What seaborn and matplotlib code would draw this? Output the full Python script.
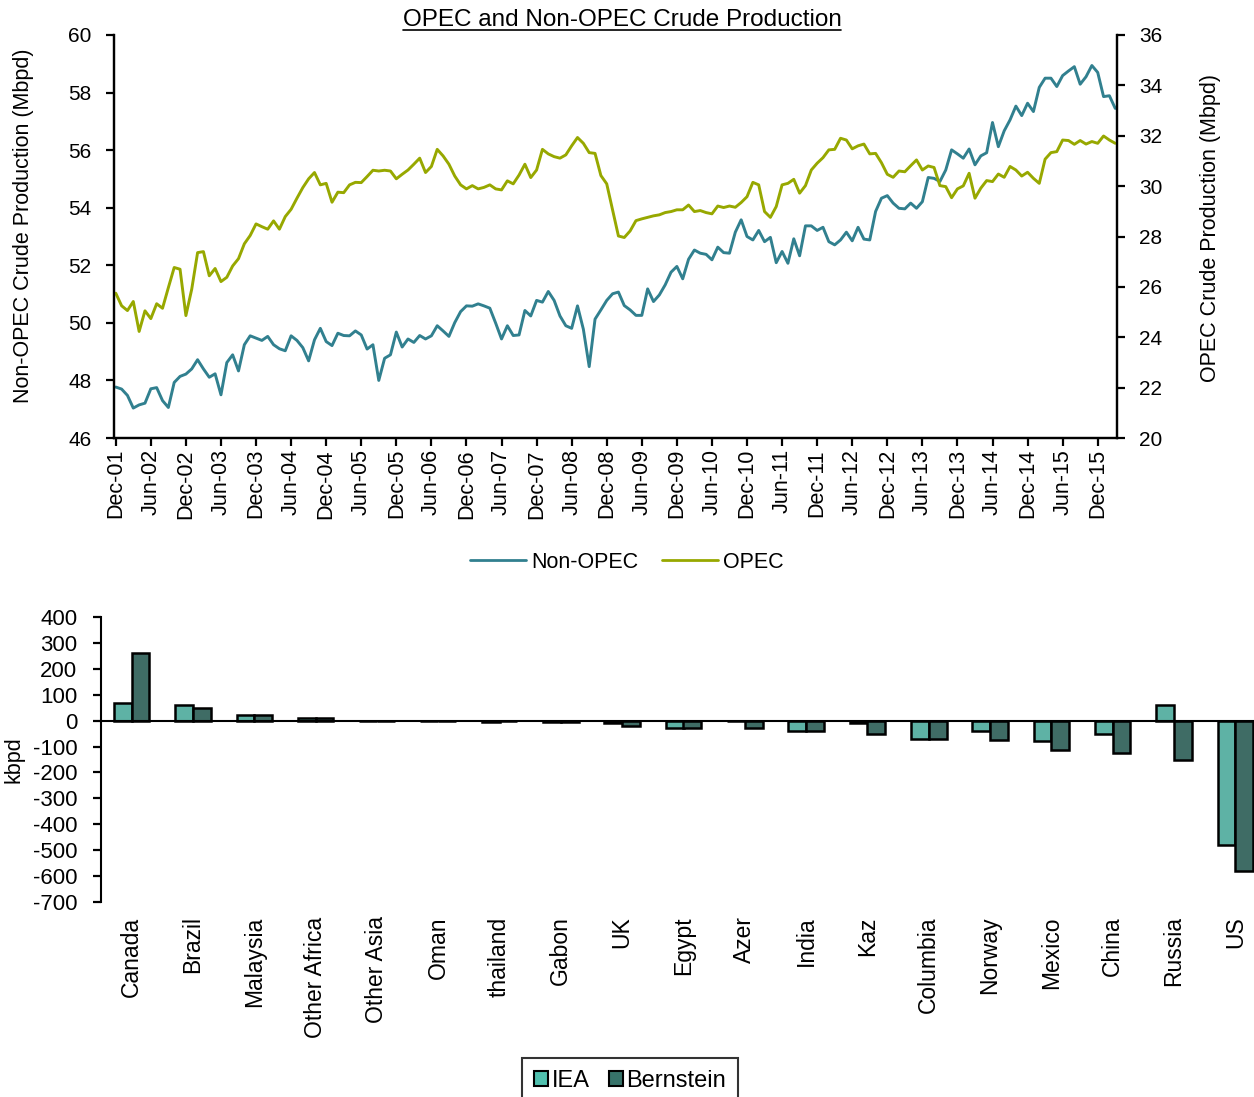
import numpy as np
import pandas as pd
import matplotlib.pyplot as plt
from matplotlib.lines import Line2D
from matplotlib.patches import Patch
import seaborn as sns


# monthly crude production, Dec-01 .. Mar-16 (Mbpd)
non_opec = [
    47.77, 47.70, 47.48, 47.04, 47.15, 47.21, 47.71, 47.75, 47.30, 47.06,
    47.93, 48.14, 48.22, 48.40, 48.72, 48.40, 48.11, 48.23, 47.50, 48.62,
    48.89, 48.33, 49.24, 49.55, 49.47, 49.39, 49.53, 49.24, 49.10, 49.03,
    49.55, 49.39, 49.14, 48.68, 49.41, 49.81, 49.35, 49.21, 49.64, 49.56,
    49.55, 49.72, 49.58, 49.09, 49.24, 48.00, 48.77, 48.89, 49.68, 49.16,
    49.44, 49.32, 49.56, 49.44, 49.55, 49.90, 49.72, 49.53, 50.01, 50.39,
    50.59, 50.58, 50.66, 50.59, 50.51, 49.99, 49.44, 49.90, 49.56, 49.58,
    50.43, 50.24, 50.78, 50.72, 51.09, 50.78, 50.24, 49.90, 49.81, 50.59,
    49.78, 48.48, 50.13, 50.45, 50.78, 51.01, 51.07, 50.60, 50.45, 50.26,
    50.26, 51.18, 50.74, 50.97, 51.32, 51.76, 51.96, 51.53, 52.21, 52.53,
    52.42, 52.38, 52.19, 52.63, 52.44, 52.42, 53.15, 53.58, 53.00, 52.88,
    53.21, 52.82, 52.97, 52.09, 52.48, 52.07, 52.92, 52.33, 53.37, 53.37,
    53.21, 53.32, 52.82, 52.71, 52.88, 53.15, 52.85, 53.32, 52.91, 52.88,
    53.87, 54.33, 54.42, 54.16, 53.98, 53.96, 54.16, 53.98, 54.21, 55.05,
    55.02, 54.91, 55.31, 56.01, 55.87, 55.72, 56.04, 55.49, 55.80, 55.91,
    56.96, 56.12, 56.67, 57.05, 57.53, 57.20, 57.63, 57.34, 58.18, 58.50,
    58.50, 58.21, 58.59, 58.75, 58.90, 58.29, 58.55, 58.94, 58.70, 57.86,
    57.89, 57.45,
]
opec = [
    25.75, 25.25, 25.06, 25.42, 24.23, 25.05, 24.74, 25.33, 25.15, 25.97,
    26.77, 26.70, 24.86, 25.91, 27.36, 27.40, 26.44, 26.73, 26.21, 26.38,
    26.83, 27.12, 27.71, 28.04, 28.50, 28.39, 28.29, 28.62, 28.29, 28.79,
    29.08, 29.52, 29.94, 30.29, 30.54, 30.05, 30.11, 29.36, 29.76, 29.74,
    30.05, 30.15, 30.14, 30.38, 30.63, 30.60, 30.63, 30.60, 30.29, 30.47,
    30.64, 30.87, 31.11, 30.54, 30.78, 31.46, 31.20, 30.87, 30.40, 30.05,
    29.89, 30.02, 29.89, 29.95, 30.05, 29.89, 29.85, 30.21, 30.09, 30.44,
    30.87, 30.34, 30.64, 31.46, 31.28, 31.17, 31.11, 31.24, 31.60, 31.93,
    31.70, 31.33, 31.30, 30.42, 30.09, 29.06, 28.02, 27.96, 28.22, 28.63,
    28.70, 28.76, 28.82, 28.86, 28.95, 28.99, 29.06, 29.06, 29.25, 28.99,
    29.03, 28.95, 28.90, 29.21, 29.15, 29.21, 29.16, 29.35, 29.58, 30.15,
    30.05, 28.99, 28.76, 29.19, 30.05, 30.11, 30.27, 29.72, 30.02, 30.64,
    30.91, 31.13, 31.44, 31.46, 31.90, 31.83, 31.48, 31.60, 31.67, 31.28,
    31.30, 30.93, 30.47, 30.35, 30.60, 30.57, 30.81, 31.04, 30.64, 30.80,
    30.74, 30.02, 29.98, 29.54, 29.89, 30.01, 30.51, 29.52, 29.92, 30.22,
    30.18, 30.48, 30.35, 30.78, 30.64, 30.40, 30.55, 30.31, 30.11, 31.07,
    31.33, 31.37, 31.83, 31.81, 31.66, 31.81, 31.67, 31.77, 31.70, 31.99,
    31.83, 31.70,
]
tick_labels = [
    "Dec-01", "Jun-02", "Dec-02", "Jun-03", "Dec-03", "Jun-04", "Dec-04",
    "Jun-05", "Dec-05", "Jun-06", "Dec-06", "Jun-07", "Dec-07", "Jun-08",
    "Dec-08", "Jun-09", "Dec-09", "Jun-10", "Dec-10", "Jun-11", "Dec-11",
    "Jun-12", "Dec-12", "Jun-13", "Dec-13", "Jun-14", "Dec-14", "Jun-15",
    "Dec-15",
]

# change in supply by country (kbpd)
countries = ["Canada", "Brazil", "Malaysia", "Other Africa", "Other Asia",
             "Oman", "thailand", "Gabon", "UK", "Egypt", "Azer", "India",
             "Kaz", "Columbia", "Norway", "Mexico", "China", "Russia", "US"]
iea = [70, 60, 20, 10, 0, 0, -5, -5, -8, -30, 0, -40, -8, -70, -40, -80,
       -50, 60, -480]
bernstein = [260, 50, 20, 10, 0, 0, 0, -5, -20, -30, -30, -40, -50, -70,
             -75, -115, -125, -150, -580]

C_NONOPEC = "#31808F"
C_OPEC = "#97A800"
C_IEA = "#50C0AE"
C_BERN = "#37736A"

sns.set_theme(style="white")
plt.rcParams["font.family"] = ["Liberation Sans", "DejaVu Sans"]
plt.rcParams["axes.unicode_minus"] = False
for k in ("text.color", "axes.labelcolor", "xtick.color", "ytick.color",
          "axes.edgecolor"):
    plt.rcParams[k] = "black"

W, H = 1254, 1097
fig = plt.figure(figsize=(W / 100, H / 100), dpi=100)

# ---- top: OPEC vs non-OPEC lines
ax = fig.add_axes([114 / W, 1 - 438 / H, (1117 - 114) / W, (438 - 35) / H])
ax2 = ax.twinx()
months = np.arange(len(non_opec))

sns.lineplot(x=months, y=non_opec, ax=ax, color=C_NONOPEC, linewidth=2.1)
sns.lineplot(x=months, y=opec, ax=ax2, color=C_OPEC, linewidth=2.1)

ax.set_xlim(-0.3, len(non_opec) - 0.7)
ax.set_ylim(46, 60)
ax2.set_ylim(20, 36)
ax.set_yticks(np.arange(46, 61, 2))
ax2.set_yticks(np.arange(20, 37, 2))
ax.set_xticks(np.arange(0, len(tick_labels) * 6, 6))
ax.set_xticklabels(tick_labels, rotation=90)

for a in (ax, ax2):
    for s in a.spines.values():
        s.set_color("black")
        s.set_linewidth(1.6)
    a.spines["top"].set_visible(False)
    a.tick_params(axis="y", length=6, width=1.6, direction="out",
                  labelsize=15, pad=10)
    a.grid(False)
ax.tick_params(axis="x", length=6, width=1.6, direction="out",
               labelsize=15.5, pad=2, bottom=True)
ax.tick_params(axis="y", left=True)
ax2.tick_params(axis="y", right=True)

ax.set_ylabel("Non-OPEC Crude Production (Mbpd)", fontsize=15.5)
ax.yaxis.set_label_coords((34 - 114) / 1003, 0.526)
ax2.set_ylabel("OPEC Crude Production (Mbpd)", fontsize=15.5)
ax2.yaxis.set_label_coords((1200 - 114) / 1003, 0.521)

title = fig.text(622 / W, 1 - 26 / H, "OPEC and Non-OPEC Crude Production",
                 ha="center", va="baseline", fontsize=17.5)

top_handles = [Line2D([], [], color=C_NONOPEC, linewidth=2),
               Line2D([], [], color=C_OPEC, linewidth=2)]
fig.legend(top_handles, ["Non-OPEC", "OPEC"], loc="center",
           bbox_to_anchor=(627 / W, 1 - 562 / H), ncol=2, frameon=False,
           fontsize=15.5, handlelength=2.6, handletextpad=0.25,
           columnspacing=1.1)

# ---- bottom: supply change bars
bx = fig.add_axes([101 / W, 1 - 902 / H, (1266 - 101) / W, (902 - 617) / H])
df = pd.DataFrame({
    "country": countries * 2,
    "kbpd": iea + bernstein,
    "source": ["IEA"] * len(countries) + ["Bernstein"] * len(countries),
})
sns.barplot(data=df, x="country", y="kbpd", hue="source",
            palette=[C_IEA, C_BERN], width=0.58, edgecolor="black",
            linewidth=1.8, legend=False, ax=bx)

bx.set_xlim(-0.5, len(countries) - 0.5)
bx.set_ylim(-700, 400)
bx.set_yticks(np.arange(-700, 401, 100))
bx.set_xlabel("")
bx.set_ylabel("kbpd", fontsize=15.5)
bx.yaxis.set_label_coords((24 - 101) / 1165, 0.498)
for s in ("top", "right"):
    bx.spines[s].set_visible(False)
bx.spines["bottom"].set_position(("data", 0))
for s in ("left", "bottom"):
    bx.spines[s].set_color("black")
    bx.spines[s].set_linewidth(1.5)
bx.set_xticks(np.arange(0.5, len(countries) - 1, 1), minor=True)
bx.tick_params(axis="x", which="minor", length=6, width=1.6,
               direction="out")
bx.tick_params(axis="x", which="major", length=0, labelsize=16.5,
               labelrotation=90, pad=141)
bx.tick_params(axis="y", length=6, width=1.6, direction="out",
               labelsize=16, pad=11, left=True)
bx.grid(False)

bar_handles = [Patch(facecolor=C_IEA, edgecolor="black", linewidth=1.5),
               Patch(facecolor=C_BERN, edgecolor="black", linewidth=1.5)]
leg = fig.legend(bar_handles, ["IEA", "Bernstein"], loc="upper center",
                 bbox_to_anchor=(630 / W, 1 - 1058 / H), ncol=2,
                 fontsize=17, handlelength=0.6, handleheight=0.6,
                 handletextpad=0.15, columnspacing=0.8, fancybox=False,
                 borderpad=0.5, borderaxespad=0)
leg.get_frame().set_edgecolor("black")
leg.get_frame().set_linewidth(1.5)

# underline under the title, like the original
fig.canvas.draw()
bb = title.get_window_extent()
inv = fig.transFigure.inverted()
(x0, _), (x1, _) = inv.transform([(bb.x0, 0), (bb.x1, 0)])
y_ul = 1 - 30 / H
fig.add_artist(Line2D([x0, x1], [y_ul, y_ul], color="black", linewidth=1.2,
                      transform=fig.transFigure))

fig.savefig("out.png", dpi=100)
